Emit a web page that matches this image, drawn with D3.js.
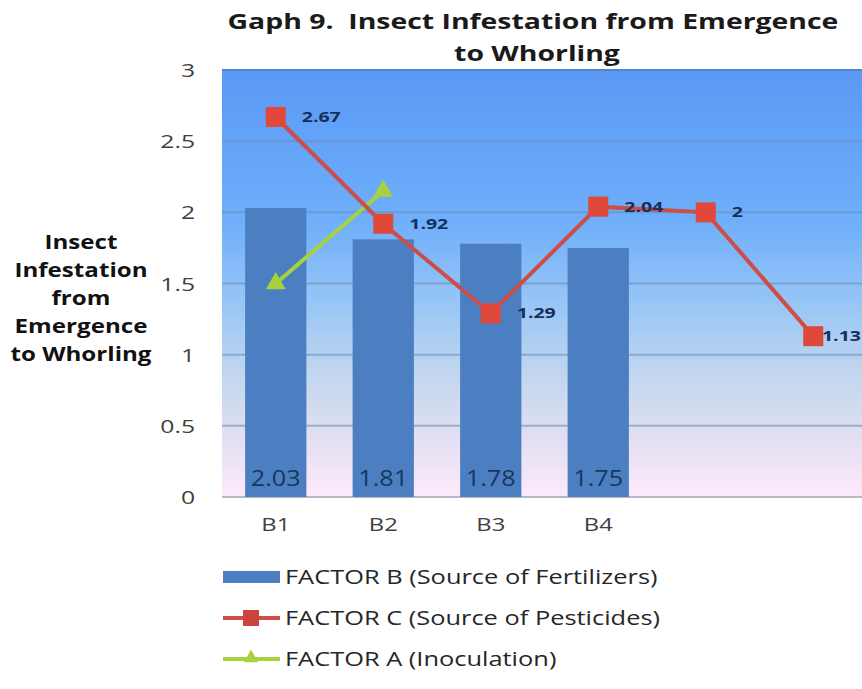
<!DOCTYPE html>
<html>
<head>
<meta charset="utf-8">
<script src="https://cdn.jsdelivr.net/npm/d3@7"></script>
<style>
  body { margin: 0; background: #fff; }
  text { font-family: "Open Sans", sans-serif; }
</style>
</head>
<body>
<div id="container"></div>
<script>
const categories = ["B1", "B2", "B3", "B4", "", " "];
const factorB = [2.03, 1.81, 1.78, 1.75];
const factorC = [2.67, 1.92, 1.29, 2.04, 2, 1.13];
const factorA = [1.5, 2.15];
const yTicks = [0, 0.5, 1, 1.5, 2, 2.5, 3];

const width = 862, height = 689;
const margin = { top: 70, left: 222, bottom: 192, right: -5 };
const plotW = width - margin.left - margin.right;
const plotH = height - margin.top - margin.bottom;

// the original picture is stretched sideways, so widen the text to match
function stretch(sel, k) {
  sel.each(function() {
    const w = this.getComputedTextLength();
    d3.select(this).attr("textLength", w * k).attr("lengthAdjust", "spacingAndGlyphs");
  });
}

const svg = d3.select("#container").append("svg")
  .attr("width", width)
  .attr("height", height);

const defs = svg.append("defs");
const grad = defs.append("linearGradient")
  .attr("id", "bg")
  .attr("x1", 0).attr("y1", 0).attr("x2", 0).attr("y2", 1);
[["0%", "#5a99f5"], ["35%", "#6eaefa"], ["55%", "#98c6f6"], ["72%", "#c3d7ee"], ["88%", "#e6e0f3"], ["100%", "#fdeafb"]]
  .forEach(([o, c]) => grad.append("stop").attr("offset", o).attr("stop-color", c));

// title
const title = svg.append("g");
title.append("text")
  .attr("x", 533).attr("y", 29)
  .attr("xml:space", "preserve")
  .text("Gaph 9.  Insect Infestation from Emergence");
title.append("text")
  .attr("x", 537).attr("y", 61)
  .text("to Whorling");
title.selectAll("text")
  .attr("text-anchor", "middle")
  .style("font-size", "22px").style("font-weight", "bold").style("fill", "#1a1a1a")
  .call(stretch, 1.29);

const g = svg.append("g").attr("transform", `translate(${margin.left},${margin.top})`);

const x = d3.scaleBand().domain(categories).range([0, plotW]).paddingInner(0.43).paddingOuter(0.215);
const xc = d => x(d) + x.bandwidth() / 2;
const y = d3.scaleLinear().domain([0, 3]).range([plotH, 0]);

g.append("rect")
  .attr("width", plotW).attr("height", plotH)
  .attr("fill", "url(#bg)");

g.append("line")
  .attr("x1", 0).attr("x2", plotW).attr("y1", 0).attr("y2", 0)
  .attr("stroke", "#4f86cf").attr("stroke-width", 2);

// gridlines
g.selectAll(".grid").data(yTicks.filter(d => d > 0 && d < 3)).enter()
  .append("line")
  .attr("x1", 0).attr("x2", plotW)
  .attr("y1", d => y(d)).attr("y2", d => y(d))
  .attr("stroke", "#6a8fb8").attr("stroke-opacity", 0.6).attr("stroke-width", 2);

g.append("line")
  .attr("x1", 0).attr("x2", plotW).attr("y1", y(0)).attr("y2", y(0))
  .attr("stroke", "#b8b8c4").attr("stroke-width", 2);

// y axis labels
const yAxis = g.append("g")
  .call(d3.axisLeft(y).tickValues(yTicks).tickSize(0).tickPadding(27).tickFormat(d3.format("")));
yAxis.select(".domain").remove();
yAxis.selectAll("text").style("font-size", "19px").style("fill", "#404040").attr("dy", "0.35em")
  .call(stretch, 1.3);

// x axis labels
const xAxis = g.append("g")
  .attr("transform", `translate(0,${plotH})`)
  .call(d3.axisBottom(x).tickSize(0).tickPadding(21));
xAxis.select(".domain").remove();
xAxis.selectAll("text").style("font-size", "19px").style("fill", "#404040")
  .call(stretch, 1.25);

// y axis title
const yTitle = ["Insect", "Infestation", "from", "Emergence", "to Whorling"];
svg.append("g").selectAll("text").data(yTitle).enter()
  .append("text")
  .attr("x", 81)
  .attr("y", (d, i) => 249 + i * 28)
  .attr("text-anchor", "middle")
  .style("font-size", "19px").style("font-weight", "bold").style("fill", "#111")
  .text(d => d)
  .call(stretch, 1.27);

// bars
const bars = factorB.map((v, i) => ({ cat: categories[i], v }));
g.selectAll(".bar").data(bars).enter()
  .append("rect")
  .attr("x", d => x(d.cat))
  .attr("y", d => y(d.v))
  .attr("width", x.bandwidth())
  .attr("height", d => plotH - y(d.v))
  .attr("fill", "#4c7fc2");

g.selectAll(".barlabel").data(bars).enter()
  .append("text")
  .attr("x", d => xc(d.cat))
  .attr("y", plotH - 11)
  .attr("text-anchor", "middle")
  .style("font-size", "21px").style("fill", "#17375e")
  .text(d => d.v.toFixed(2))
  .call(stretch, 1.2);

// factor A line
const ptsA = factorA.map((v, i) => ({ cat: categories[i], v }));
const line = d3.line().x(d => xc(d.cat)).y(d => y(d.v));
g.append("path").datum(ptsA)
  .attr("d", line)
  .attr("fill", "none")
  .attr("stroke", "#a6d23f").attr("stroke-width", 4);
g.selectAll(".tri").data(ptsA).enter()
  .append("path")
  .attr("transform", d => `translate(${xc(d.cat)},${y(d.v)})`)
  .attr("d", d3.symbol().type(d3.symbolTriangle).size(170))
  .attr("fill", "#a6d23f");

// factor C line
const ptsC = factorC.map((v, i) => ({ cat: categories[i], v }));
g.append("path").datum(ptsC)
  .attr("d", line)
  .attr("fill", "none")
  .attr("stroke", "#cc4f47").attr("stroke-width", 4);
g.selectAll(".sq").data(ptsC).enter()
  .append("rect")
  .attr("x", d => xc(d.cat) - 10)
  .attr("y", d => y(d.v) - 10)
  .attr("width", 20).attr("height", 20)
  .attr("fill", "#e0483a");
g.selectAll(".clabel").data(ptsC).enter()
  .append("text")
  .attr("x", d => xc(d.cat) + 26)
  .attr("y", d => y(d.v) + 5)
  .style("font-size", "15px").style("font-weight", "bold").style("fill", "#14305a")
  .text(d => d3.format("")(d.v))
  .call(stretch, 1.3)
  .each(function(d) {
    // keep labels inside the page, like the original pushes the last one back
    const w = +this.getAttribute("textLength");
    const maxX = width - margin.left - w - 1;
    if (xc(d.cat) + 26 > maxX) d3.select(this).attr("x", maxX);
  });

// legend
const legend = svg.append("g").attr("transform", "translate(223,577)");
const legendItems = [
  { label: "FACTOR B (Source of Fertilizers)", type: "bar" },
  { label: "FACTOR C (Source of Pesticides)", type: "sq" },
  { label: "FACTOR A (Inoculation)", type: "tri" }
];
legendItems.forEach((d, i) => {
  const row = legend.append("g").attr("transform", `translate(0,${i * 41})`);
  if (d.type === "bar") {
    row.append("rect").attr("x", 0).attr("y", -6).attr("width", 57).attr("height", 12).attr("fill", "#4c7fc2");
  } else {
    const c = d.type === "sq" ? "#cc4f47" : "#a6d23f";
    row.append("line").attr("x1", 0).attr("x2", 57).attr("y1", 0).attr("y2", 0)
      .attr("stroke", c).attr("stroke-width", 4);
    if (d.type === "sq") {
      row.append("rect").attr("x", 20).attr("y", -8).attr("width", 16).attr("height", 16).attr("fill", "#c9443c");
    } else {
      row.append("path").attr("transform", "translate(28,-1)")
        .attr("d", d3.symbol().type(d3.symbolTriangle).size(90)).attr("fill", "#a6d23f");
    }
  }
  row.append("text")
    .attr("x", 62).attr("y", 7)
    .style("font-size", "20px").style("fill", "#262626")
    .text(d.label)
    .call(stretch, 1.27);
});
</script>
</body>
</html>
